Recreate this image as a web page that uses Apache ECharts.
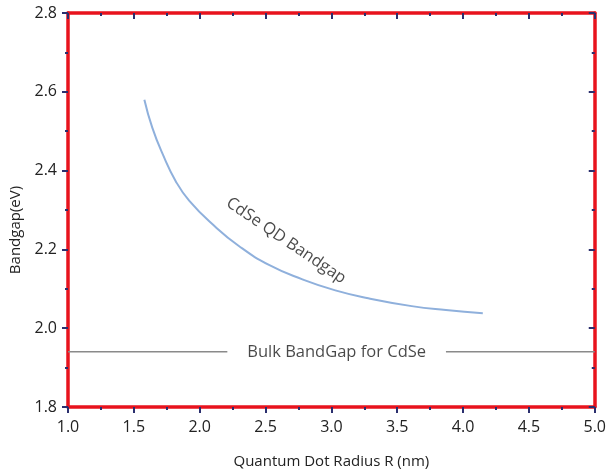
<!DOCTYPE html>
<html><head><meta charset="utf-8">
<script src="https://cdn.jsdelivr.net/npm/echarts@6/dist/echarts.min.js"></script>
<style>html,body{margin:0;padding:0;background:#fff}#c{width:609px;height:474px}</style>
</head><body><div id="c"></div>
<script>
// Data
const radius  = [1.58, 1.64, 1.72, 1.82, 1.92, 2.10, 2.30, 2.53, 2.78, 3.03, 3.28, 3.61, 3.87, 4.15];
const bandgap = [2.580, 2.509, 2.441, 2.372, 2.324, 2.263, 2.208, 2.160, 2.124, 2.096, 2.076, 2.056, 2.046, 2.038];
const bulkGap = 1.94;
const bulkSegmentsX = [[1.0, 2.21], [3.87, 5.0]];
const xTicks = [1.0, 1.5, 2.0, 2.5, 3.0, 3.5, 4.0, 4.5, 5.0];
const yTicks = [1.8, 2.0, 2.2, 2.4, 2.6, 2.8];
const curveLabel = 'CdSe QD Bandgap';
const curveLabelAt = [2.656, 2.222];
const bulkLabel = 'Bulk BandGap for CdSe';
const xTitle = 'Quantum Dot Radius R (nm)';
const yTitle = 'Bandgap(eV)';

const font = 'Open Sans';
const red = '#e8131d';
const tickCol = '#2b2f6e';

const chart = echarts.init(document.getElementById('c'), null, {renderer: 'canvas'});
const axisBase = (min, max, interval) => ({
  type: 'value', min: min, max: max, interval: interval,
  splitLine: {show: false},
  axisLine: {show: true, onZero: false, lineStyle: {color: red, width: 3.5}},
  axisTick: {show: true, length: 6, lineStyle: {color: tickCol, width: 2}},
  minorTick: {show: true, splitNumber: 2, length: 3, lineStyle: {color: tickCol, width: 2}},
  minorSplitLine: {show: false}
});
const curve = radius.map((r, i) => [r, bandgap[i]]);
const option = {
  animation: false,
  backgroundColor: '#fff',
  grid: {left: 68, right: 12, top: 13, bottom: 66},
  graphic: [{
    type: 'text', x: 16, y: 230, rotation: Math.PI / 2, silent: true,
    style: {text: yTitle, fontFamily: font, fontSize: 15, fill: '#222',
      align: 'center', verticalAlign: 'middle'}
  }],
  xAxis: [
    Object.assign(axisBase(xTicks[0], xTicks[xTicks.length - 1], 0.5), {
      position: 'bottom', name: xTitle, nameLocation: 'middle', nameGap: 47,
      nameTextStyle: {fontFamily: font, fontSize: 15, color: '#222'},
      axisLabel: {fontFamily: font, fontSize: 16, color: '#222', margin: 12,
        formatter: v => v.toFixed(1)}
    }),
    Object.assign(axisBase(xTicks[0], xTicks[xTicks.length - 1], 0.5), {
      position: 'top', axisLabel: {show: false},
      axisTick: {show: true, inside: true, length: 6, lineStyle: {color: tickCol, width: 2}},
      minorTick: {show: true, splitNumber: 2, length: 3, lineStyle: {color: tickCol, width: 2}}
    })
  ],
  yAxis: [
    Object.assign(axisBase(yTicks[0], yTicks[yTicks.length - 1], 0.2), {
      position: 'left',
      axisLabel: {fontFamily: font, fontSize: 16, color: '#222', margin: 11,
        formatter: v => v.toFixed(1)}
    }),
    Object.assign(axisBase(yTicks[0], yTicks[yTicks.length - 1], 0.2), {
      position: 'right', axisLabel: {show: false},
      axisTick: {show: true, inside: true, length: 6, lineStyle: {color: tickCol, width: 2}},
      minorTick: {show: true, splitNumber: 2, length: 3, lineStyle: {color: tickCol, width: 2}}
    })
  ],
  series: [
    {type: 'line', data: curve, smooth: 0.5, showSymbol: false,
      lineStyle: {color: '#8fb0dc', width: 2}},
    {type: 'line', data: bulkSegmentsX[0].map(x => [x, bulkGap]), showSymbol: false,
      lineStyle: {color: '#8a8a8a', width: 1.5}},
    {type: 'line', data: bulkSegmentsX[1].map(x => [x, bulkGap]), showSymbol: false,
      lineStyle: {color: '#8a8a8a', width: 1.5}},
    {type: 'scatter', symbolSize: 0, silent: true,
      data: [
        {value: [(bulkSegmentsX[0][1] + bulkSegmentsX[1][0]) / 2, bulkGap],
          label: {show: true, position: 'inside', formatter: bulkLabel,
            fontFamily: font, fontSize: 16.5, color: '#1a1a1a'}},
        {value: curveLabelAt,
          label: {show: true, position: 'inside', formatter: curveLabel, rotate: -34,
            fontFamily: font, fontSize: 16.5, color: '#1a1a1a'}}
      ]}
  ]
};
chart.setOption(option);
</script></body></html>
